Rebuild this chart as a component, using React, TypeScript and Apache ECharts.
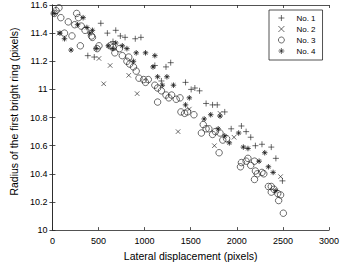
import React, { useEffect, useRef } from "react";
import * as echarts from "echarts";

const seriesNames = ["No. 1", "No. 2", "No. 3", "No. 4"];

const xTicks = { min: 0, max: 3000, interval: 500 };
const yTicks = { min: 10, max: 11.6, interval: 0.2 };

const no1: [number, number][] = [
  [525, 11.47], [596, 11.40], [687, 11.42], [657, 11.34], [737, 11.38], [788, 11.37],
  [899, 11.36], [960, 11.37], [384, 11.24], [454, 11.23], [1111, 11.17], [1232, 11.16],
  [1283, 11.19], [1182, 11.06], [1444, 11.05], [1505, 11.00], [1545, 11.01], [1596, 10.99],
  [1667, 10.90], [1737, 10.89], [1788, 10.89], [1869, 10.84], [1939, 10.72], [2050, 10.74],
  [2101, 10.70], [2151, 10.66], [2202, 10.60], [2273, 10.61], [2374, 10.59], [2424, 10.51],
  [2495, 10.35],
];

const no2: [number, number][] = [
  [71, 11.40], [505, 11.22], [556, 11.04], [626, 11.17], [828, 11.10], [919, 10.97],
  [1363, 10.70], [1485, 10.86], [1757, 10.60], [1818, 10.83], [1970, 10.66], [2475, 10.38],
];

const no3: [number, number][] = [
  [40, 11.56], [71, 11.58], [20, 11.54], [91, 11.51], [172, 11.48], [263, 11.54],
  [283, 11.51], [242, 11.46], [313, 11.45], [131, 11.40], [212, 11.38], [354, 11.42],
  [424, 11.38], [434, 11.37], [303, 11.31], [505, 11.31], [485, 11.29], [626, 11.31],
  [657, 11.30], [677, 11.26], [727, 11.29], [758, 11.24], [828, 11.23], [808, 11.20],
  [838, 11.18], [879, 11.16], [909, 11.13], [939, 11.08], [990, 11.07], [1040, 11.07],
  [1010, 11.05], [1111, 11.03], [1141, 11.01], [1182, 10.99], [1232, 10.96], [1263, 10.94],
  [1293, 10.96], [1343, 10.93], [1384, 10.94], [1141, 10.91], [1394, 10.84], [1434, 10.83],
  [1465, 10.84], [1535, 10.82], [1636, 10.75], [1667, 10.72], [1697, 10.72], [1737, 10.68],
  [1768, 10.70], [1616, 10.69], [1818, 10.69], [1848, 10.64], [1889, 10.65], [1808, 10.55],
  [2121, 10.51], [2101, 10.49], [2050, 10.48], [2151, 10.46], [2192, 10.49], [2202, 10.42],
  [2222, 10.40], [2273, 10.41], [2293, 10.40], [2192, 10.36], [2040, 10.45], [2343, 10.31],
  [2374, 10.31], [2404, 10.29], [2374, 10.27], [2444, 10.26], [2475, 10.25], [2454, 10.21],
  [2505, 10.12],
];

const no4: [number, number][] = [
  [20, 11.54], [333, 11.51], [81, 11.40], [131, 11.36], [202, 11.28], [273, 11.46],
  [374, 11.44], [404, 11.40], [434, 11.42], [475, 11.29], [606, 11.31], [687, 11.33],
  [657, 11.29], [758, 11.31], [808, 11.29], [909, 11.26], [1010, 11.26], [879, 11.20],
  [1111, 11.24], [1091, 11.16], [1141, 11.09], [1242, 11.09], [1192, 11.03], [1313, 11.03],
  [1485, 10.94], [1444, 10.89], [1717, 10.82], [1818, 10.81], [1646, 10.79], [1798, 10.72],
  [2020, 10.69], [1869, 10.67], [1919, 10.62], [2071, 10.59], [2121, 10.58], [2303, 10.55],
  [2242, 10.49], [2343, 10.45], [2394, 10.41], [2424, 10.28],
];

const FONT = "'Liberation Sans', Arial, Helvetica, sans-serif";
const INK = "#262626";

const SYM_PLUS = "path://M5,0L5,10M0,5L10,5";
const SYM_CROSS = "path://M0,0L10,10M10,0L0,10";
const SYM_STAR = "path://M5,0L5,10M0,5L10,5M1.6,1.6L8.4,8.4M8.4,1.6L1.6,8.4";

export default function App() {
  const ref = useRef<HTMLDivElement>(null);
  useEffect(() => {
    if (!ref.current) return;
    const chart = echarts.init(ref.current, undefined, { renderer: "svg" });
    const markerStyle = {
      color: "rgba(0,0,0,0)",
      borderColor: "#1a1a1a",
      borderWidth: 0.8,
    };
    const axisLine = { show: true, lineStyle: { color: INK, width: 0.8 } };
    const axisTick = { show: true, inside: true, length: 3, lineStyle: { color: INK, width: 0.8 } };
    const legendIconStyle = { color: "rgba(0,0,0,0)", borderColor: "#1a1a1a", borderWidth: 0.8 };
    chart.setOption({
      animation: false,
      backgroundColor: "#fff",
      grid: { left: 35, right: 9, top: 5, bottom: 28, containLabel: false },
      legend: {
        orient: "vertical",
        left: 269,
        top: 10,
        padding: [4, 7, 5, 9],
        itemWidth: 20,
        itemHeight: 6,
        itemGap: 3,
        borderColor: INK,
        borderWidth: 0.8,
        backgroundColor: "#fff",
        itemStyle: legendIconStyle,
        textStyle: { fontFamily: FONT, fontSize: 8, color: "#000", lineHeight: 8 },
        data: seriesNames,
      },
      xAxis: [
        {
          type: "value",
          min: xTicks.min,
          max: xTicks.max,
          interval: xTicks.interval,
          position: "bottom",
          name: "Lateral displacement (pixels)",
          nameLocation: "middle",
          nameGap: 17,
          nameTextStyle: { fontFamily: FONT, fontSize: 10.5, color: "#000" },
          axisLine,
          axisTick,
          axisLabel: {
            fontFamily: FONT,
            fontSize: 9,
            color: "#000",
            margin: 6,
            formatter: (v: number) => String(v),
          },
          splitLine: { show: false },
        },
        {
          type: "value",
          min: xTicks.min,
          max: xTicks.max,
          interval: xTicks.interval,
          position: "top",
          axisLine,
          axisTick,
          axisLabel: { show: false },
          splitLine: { show: false },
        },
      ],
      yAxis: [
        {
          type: "value",
          min: yTicks.min,
          max: yTicks.max,
          interval: yTicks.interval,
          position: "left",
          name: "Radius of the first bright ring (pixels)",
          nameLocation: "middle",
          nameGap: 29,
          nameTextStyle: { fontFamily: FONT, fontSize: 10.5, color: "#000", padding: [0, 0, 0, 12] },
          axisLine,
          axisTick,
          axisLabel: {
            fontFamily: FONT,
            fontSize: 9,
            color: "#000",
            margin: 5,
            formatter: (v: number) => String(Math.round(v * 10) / 10),
          },
          splitLine: { show: false },
        },
        {
          type: "value",
          min: yTicks.min,
          max: yTicks.max,
          interval: yTicks.interval,
          position: "right",
          axisLine,
          axisTick,
          axisLabel: { show: false },
          splitLine: { show: false },
        },
      ],
      series: [
        { name: seriesNames[0], type: "scatter", data: no1, symbol: SYM_PLUS, symbolSize: 6, itemStyle: markerStyle },
        { name: seriesNames[1], type: "scatter", data: no2, symbol: SYM_CROSS, symbolSize: 4.5, itemStyle: markerStyle },
        { name: seriesNames[2], type: "scatter", data: no3, symbol: "circle", symbolSize: 6.5, itemStyle: markerStyle },
        { name: seriesNames[3], type: "scatter", data: no4, symbol: SYM_STAR, symbolSize: 5.5, itemStyle: { ...markerStyle, borderWidth: 1 } },
      ],
    });
    return () => chart.dispose();
  }, []);
  return (
    <div
      ref={ref}
      style={{ position: "fixed", left: 0, top: 0, width: 342, height: 266, background: "#fff" }}
    />
  );
}
